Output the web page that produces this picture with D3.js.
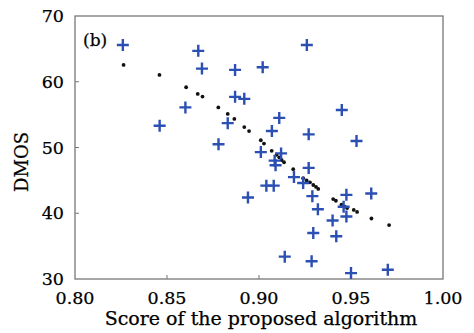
<!DOCTYPE html>
<html>
<head>
<meta charset="utf-8">
<script src="https://cdn.jsdelivr.net/npm/d3@7"></script>
<style>
  body { margin: 0; background: #fff; }
  text { font-family: "DejaVu Serif", "Liberation Serif", serif; fill: #000; stroke: #000; stroke-width: 0.25; }
</style>
</head>
<body>
<svg width="474" height="333"></svg>
<script>
// subjective scores (blue crosses)
var scoreX = [0.826, 0.846, 0.860, 0.867, 0.869, 0.878, 0.883, 0.887, 0.887, 0.892,
  0.894, 0.902, 0.901, 0.904, 0.908, 0.907, 0.911, 0.912, 0.9085, 0.909,
  0.914, 0.919, 0.924, 0.926, 0.927, 0.927, 0.929, 0.9295, 0.9286, 0.932,
  0.945, 0.940, 0.942, 0.9475, 0.946, 0.9475, 0.953, 0.961, 0.950, 0.970];
var dmos = [65.6, 53.3, 56.1, 64.7, 62.0, 50.5, 53.7, 61.8, 57.7, 57.4,
  42.4, 62.2, 49.3, 44.2, 44.2, 52.5, 54.5, 49.1, 48.0, 47.3,
  33.4, 45.5, 44.6, 65.6, 52.0, 46.9, 42.6, 37.0, 32.7, 40.6,
  55.7, 38.9, 36.5, 42.8, 41.0, 39.5, 51.0, 43.0, 30.9, 31.4];

// fitted values (black dots)
var fitX = [0.8264, 0.8459, 0.8604, 0.8667, 0.8693, 0.8779, 0.883, 0.8866, 0.892, 0.8946,
  0.901, 0.9027, 0.9069, 0.9096, 0.911, 0.9123, 0.9136, 0.9186, 0.924, 0.9259,
  0.9277, 0.9295, 0.931, 0.9322, 0.9403, 0.9418, 0.9448, 0.9466, 0.9479, 0.9515,
  0.9533, 0.9611, 0.9707];
var fitY = [62.56, 61.04, 59.16, 58.15, 57.75, 56.1, 55.1, 54.35, 53.1, 52.5,
  51.1, 50.6, 49.5, 48.9, 48.5, 48.1, 47.76, 46.7, 45.34, 44.99,
  44.7, 44.3, 44.0, 43.7, 42.15, 41.9, 41.3, 41.0, 40.8, 40.5,
  40.2, 39.2, 38.2];

var xTicks = [0.80, 0.85, 0.90, 0.95, 1.00];
var yTicks = [30, 40, 50, 60, 70];

var padL = 75, padR = 443, padT = 16, padB = 279;
var svg = d3.select('svg');

var x = d3.scaleLinear().domain([0.8, 1.0]).range([padL, padR]);
var y = d3.scaleLinear().domain([30, 70]).range([padB, padT]);

// frame
svg.append('rect')
  .attr('x', padL).attr('y', padT)
  .attr('width', padR - padL).attr('height', padB - padT)
  .attr('fill', 'none')
  .attr('stroke', '#777')
  .attr('stroke-width', 1.3);

// inward ticks
svg.selectAll('line.xt')
  .data(xTicks.slice(1, -1)).enter().append('line')
  .attr('x1', function(d) { return x(d); })
  .attr('x2', function(d) { return x(d); })
  .attr('y1', padB).attr('y2', padB - 4)
  .attr('stroke', '#777');
svg.selectAll('line.yt')
  .data(yTicks.slice(1, -1)).enter().append('line')
  .attr('x1', padL).attr('x2', padL + 4)
  .attr('y1', function(d) { return y(d); })
  .attr('y2', function(d) { return y(d); })
  .attr('stroke', '#777');

// tick labels
svg.selectAll('text.xl')
  .data(xTicks).enter().append('text')
  .attr('x', function(d) { return x(d); })
  .attr('y', 304)
  .attr('text-anchor', 'middle')
  .attr('font-size', 17.5)
  .text(function(d) { return d.toFixed(2); });
svg.selectAll('text.yl')
  .data(yTicks).enter().append('text')
  .attr('x', 64)
  .attr('y', function(d) { return y(d) + 6; })
  .attr('text-anchor', 'end')
  .attr('font-size', 17.5)
  .text(function(d) { return d; });

// axis titles
svg.append('text')
  .attr('x', 261).attr('y', 325)
  .attr('text-anchor', 'middle')
  .attr('font-size', 19)
  .text('Score of the proposed algorithm');
svg.append('text')
  .attr('transform', 'translate(28,162)rotate(-90)')
  .attr('text-anchor', 'middle')
  .attr('font-size', 18)
  .text('DMOS');

svg.append('text')
  .attr('x', 83).attr('y', 46)
  .attr('font-size', 17)
  .text('(b)');

// fitted dots
svg.selectAll('circle.fit')
  .data(fitX).enter().append('circle')
  .attr('cx', function(d) { return x(d); })
  .attr('cy', function(d, i) { return y(fitY[i]); })
  .attr('r', 1.9)
  .attr('fill', '#111');

// crosses
var s = 6;
svg.selectAll('path.cross')
  .data(scoreX).enter().append('path')
  .attr('d', function(d, i) {
    var cx = x(d), cy = y(dmos[i]);
    return 'M' + (cx - s) + ',' + cy + 'H' + (cx + s) +
      'M' + cx + ',' + (cy - s) + 'V' + (cy + s);
  })
  .attr('stroke', '#2b4fb2')
  .attr('stroke-width', 2.4)
  .attr('fill', 'none');
</script>
</body>
</html>
